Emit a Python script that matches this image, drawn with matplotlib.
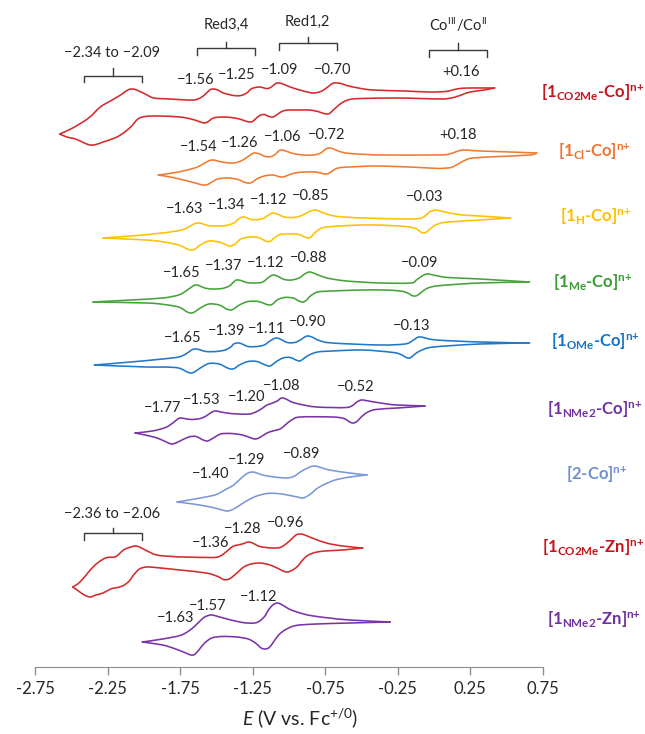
"""Stacked cyclic voltammograms of the Co / Zn complexes vs. Fc+/0."""
import matplotlib

matplotlib.use("Agg")
import matplotlib.pyplot as plt
from matplotlib.patches import PathPatch
from matplotlib.path import Path

plt.rcParams["font.family"] = ["Lato", "DejaVu Sans"]
plt.rcParams["mathtext.fontset"] = "custom"
plt.rcParams["mathtext.rm"] = "Lato"
plt.rcParams["mathtext.it"] = "Lato:italic"
plt.rcParams["mathtext.bf"] = "Lato:bold"

# ---- data: (E / V, current / a.u.), forward (upper) and return (lower)
CO2ME_CO_UP = [(-2.58, -34), (-2.49, -28), (-2.38, -18), (-2.30, -7), (-2.23, -1), (-2.16, 5),
               (-2.11, 10), (-2.08, 11), (-2.05, 10), (-1.99, 6), (-1.93, 2), (-1.82, 1),
               (-1.66, 0), (-1.60, 3), (-1.56, 8), (-1.54, 10.5), (-1.52, 11), (-1.49, 10),
               (-1.45, 7), (-1.38, 4.5), (-1.33, 4.5), (-1.29, 7), (-1.26, 11), (-1.23, 12.5),
               (-1.20, 13), (-1.17, 12), (-1.145, 11.5), (-1.12, 13), (-1.09, 16.5),
               (-1.07, 17), (-1.04, 16), (-0.99, 13), (-0.90, 9), (-0.83, 7), (-0.78, 8.5),
               (-0.74, 12), (-0.70, 16.5), (-0.67, 17), (-0.64, 16.5), (-0.60, 14.5),
               (-0.52, 12), (-0.42, 10), (-0.20, 9), (-0.03, 8), (0.08, 8.5), (0.13, 10),
               (0.18, 11.5), (0.25, 12), (0.35, 12), (0.42, 12)]
CO2ME_CO_DN = [(0.42, 12), (0.35, 10), (0.25, 8), (0.19, 5), (0.16, 3.5), (0.12, 2), (0.06, 1),
               (-0.10, 1.5), (-0.25, 2), (-0.50, 1.5), (-0.58, 0.5), (-0.63, -2.5),
               (-0.67, -7), (-0.70, -11), (-0.72, -13.5), (-0.74, -14), (-0.77, -13),
               (-0.80, -11.5), (-0.86, -10), (-0.92, -10), (-1.00, -10), (-1.04, -11),
               (-1.07, -13.5), (-1.10, -16.5), (-1.12, -17), (-1.145, -16), (-1.17, -14.5),
               (-1.20, -15.5), (-1.23, -19), (-1.25, -21.5), (-1.27, -22), (-1.30, -21),
               (-1.34, -19), (-1.40, -17.5), (-1.46, -17), (-1.52, -18), (-1.555, -21.5),
               (-1.58, -23), (-1.61, -22), (-1.66, -19.5), (-1.75, -17), (-1.90, -16),
               (-1.99, -16.5), (-2.04, -19), (-2.09, -27), (-2.15, -34), (-2.20, -38),
               (-2.28, -42), (-2.33, -44.5), (-2.37, -45), (-2.41, -43), (-2.47, -39),
               (-2.53, -37), (-2.58, -34)]

CL_CO_UP = [(-1.90, -10), (-1.80, -8), (-1.70, -5), (-1.63, -2), (-1.58, 2), (-1.545, 4.5),
            (-1.52, 5), (-1.49, 4), (-1.44, 2.5), (-1.38, 2), (-1.33, 4), (-1.29, 7.5),
            (-1.25, 11.5), (-1.23, 12), (-1.20, 11), (-1.16, 8.5), (-1.12, 8.5), (-1.09, 11),
            (-1.07, 14), (-1.05, 15), (-1.02, 14), (-0.97, 11.5), (-0.90, 10), (-0.83, 10),
            (-0.78, 12), (-0.745, 16), (-0.72, 17), (-0.69, 16), (-0.65, 13.5), (-0.58, 11.5),
            (-0.45, 10.5), (-0.37, 10), (0.00, 10), (0.09, 10.5), (0.14, 12.5), (0.18, 14.5),
            (0.22, 15), (0.26, 14.5), (0.32, 14), (0.53, 13), (0.71, 12)]
CL_CO_DN = [(0.71, 12), (0.66, 10), (0.45, 8.5), (0.27, 7), (0.22, 5), (0.18, 2),
            (0.15, -0.5), (0.12, -2.5), (0.09, -3), (0.04, -3.5), (-0.03, -3), (-0.37, -1),
            (-0.58, -2), (-0.66, -3), (-0.70, -6), (-0.725, -8.5), (-0.75, -9), (-0.78, -8),
            (-0.82, -7), (-0.89, -7), (-0.96, -8), (-1.01, -10.5), (-1.04, -12),
            (-1.07, -11.5), (-1.11, -10), (-1.17, -11), (-1.22, -14), (-1.255, -17.5),
            (-1.28, -18), (-1.31, -17), (-1.35, -14.5), (-1.42, -13), (-1.49, -14),
            (-1.53, -17), (-1.56, -19.5), (-1.59, -20), (-1.62, -19), (-1.67, -17),
            (-1.80, -12.5), (-1.90, -10)]

H_CO_UP = [(-2.28, -10), (-2.09, -8), (-1.87, -5), (-1.74, -2), (-1.69, 1), (-1.655, 4),
           (-1.63, 5), (-1.60, 4.5), (-1.56, 2.5), (-1.50, 2), (-1.43, 2.5), (-1.38, 5),
           (-1.345, 9), (-1.32, 11), (-1.295, 10.5), (-1.26, 8.5), (-1.21, 8.5), (-1.17, 10),
           (-1.135, 13.5), (-1.11, 15), (-1.08, 14), (-1.03, 11), (-0.97, 10.5), (-0.92, 12),
           (-0.87, 15.5), (-0.84, 17.5), (-0.82, 18), (-0.79, 17), (-0.74, 14), (-0.66, 11.5),
           (-0.49, 10), (-0.20, 9), (-0.10, 9.5), (-0.06, 12), (-0.03, 16), (0.00, 17.5),
           (0.02, 18), (0.05, 17), (0.11, 15), (0.20, 13), (0.32, 12), (0.53, 10)]
H_CO_DN = [(0.53, 10), (0.32, 8), (0.10, 6), (0.04, 4.5), (0.00, 2), (-0.03, -1.5),
           (-0.05, -4), (-0.07, -5), (-0.09, -4), (-0.12, -1), (-0.17, 1), (-0.30, 2.5),
           (-0.49, 3), (-0.70, 1.5), (-0.77, 0), (-0.81, -3.5), (-0.84, -8), (-0.86, -10),
           (-0.89, -9), (-0.93, -6.5), (-0.99, -6), (-1.06, -6.5), (-1.10, -10),
           (-1.13, -13.5), (-1.16, -13), (-1.21, -9.5), (-1.27, -9), (-1.33, -11),
           (-1.37, -16), (-1.40, -18), (-1.43, -17), (-1.48, -14), (-1.55, -13),
           (-1.61, -17), (-1.645, -21), (-1.67, -22), (-1.70, -21), (-1.76, -17),
           (-1.86, -14), (-1.98, -12), (-2.28, -10)]

ME_CO_UP = [(-2.35, -10), (-2.09, -8), (-1.87, -6), (-1.76, -3), (-1.71, 1), (-1.67, 5),
            (-1.645, 7), (-1.62, 6.5), (-1.58, 4), (-1.53, 3), (-1.46, 3.5), (-1.41, 6),
            (-1.38, 10), (-1.36, 12), (-1.33, 11.5), (-1.29, 9.5), (-1.23, 9), (-1.18, 10),
            (-1.14, 14.5), (-1.11, 17), (-1.08, 16), (-1.03, 12.5), (-0.98, 12), (-0.93, 14),
            (-0.89, 18), (-0.86, 20), (-0.83, 19), (-0.78, 16), (-0.72, 13.5), (-0.60, 11),
            (-0.37, 9), (-0.16, 9), (-0.12, 12), (-0.08, 16), (-0.05, 18), (-0.02, 17.5),
            (0.03, 16), (0.10, 14.5), (0.32, 13), (0.66, 10)]
ME_CO_DN = [(0.66, 10), (0.32, 9), (0.05, 6.5), (-0.03, 4.5), (-0.07, 1.5), (-0.10, -2),
            (-0.125, -4), (-0.15, -3.5), (-0.18, -1), (-0.23, 1), (-0.35, 2), (-0.49, 2),
            (-0.70, 1), (-0.80, 0), (-0.85, -4), (-0.88, -8.5), (-0.905, -10), (-0.93, -9),
            (-0.97, -6), (-1.03, -5.5), (-1.08, -8), (-1.11, -12), (-1.135, -13),
            (-1.16, -12), (-1.21, -9.5), (-1.28, -9.5), (-1.34, -13), (-1.38, -17),
            (-1.40, -18), (-1.43, -17), (-1.48, -13), (-1.55, -12), (-1.61, -16),
            (-1.65, -20), (-1.675, -21), (-1.70, -20), (-1.76, -15), (-1.86, -12.5),
            (-1.98, -11), (-2.35, -10)]

OME_CO_UP = [(-2.34, -12), (-2.09, -9), (-1.87, -6), (-1.76, -4), (-1.71, -1), (-1.67, 3),
             (-1.645, 4), (-1.62, 3.5), (-1.57, 1.5), (-1.50, 1.5), (-1.44, 3), (-1.40, 6),
             (-1.38, 9), (-1.355, 10), (-1.33, 9.5), (-1.28, 6.5), (-1.22, 6.5), (-1.17, 8),
             (-1.13, 12), (-1.10, 14.5), (-1.085, 15), (-1.06, 14), (-1.01, 10.5),
             (-0.96, 10.5), (-0.92, 13), (-0.89, 16), (-0.87, 17), (-0.84, 16),
             (-0.79, 12.5), (-0.70, 10), (-0.37, 8), (-0.20, 9), (-0.15, 12), (-0.12, 15),
             (-0.10, 16), (-0.07, 15.5), (0.02, 13), (0.32, 11), (0.66, 10)]
OME_CO_DN = [(0.66, 10), (0.32, 9), (0.00, 6), (-0.08, 3), (-0.12, 0), (-0.145, -3),
             (-0.165, -5), (-0.19, -4.5), (-0.22, -2), (-0.28, 0.5), (-0.49, 3), (-0.70, 2),
             (-0.80, 1), (-0.86, -2), (-0.90, -6), (-0.925, -8), (-0.95, -7), (-0.99, -4.5),
             (-1.04, -5), (-1.09, -9), (-1.12, -12.5), (-1.14, -13), (-1.17, -11.5),
             (-1.22, -8.5), (-1.28, -8.5), (-1.34, -12), (-1.375, -15.5), (-1.40, -16),
             (-1.43, -14.5), (-1.48, -11), (-1.55, -10.5), (-1.61, -15), (-1.65, -19),
             (-1.675, -20), (-1.70, -19), (-1.76, -15), (-1.86, -14), (-1.98, -14),
             (-2.34, -12)]

NME2_CO_UP = [(-2.06, -15), (-1.94, -13), (-1.85, -9.5), (-1.80, -5), (-1.77, -1.5),
              (-1.75, 0), (-1.72, -0.5), (-1.67, -1.5), (-1.61, -0.5), (-1.57, 2),
              (-1.535, 5.5), (-1.51, 7), (-1.48, 6.5), (-1.43, 5), (-1.35, 4), (-1.27, 4),
              (-1.22, 6.5), (-1.18, 10), (-1.15, 13), (-1.12, 14.5), (-1.08, 17), (-1.05, 20),
              (-1.02, 19), (-0.97, 15.5), (-0.88, 12.5), (-0.81, 11), (-0.70, 10.5),
              (-0.60, 10.5), (-0.56, 12.5), (-0.53, 16), (-0.50, 18), (-0.47, 17.5),
              (-0.41, 16), (-0.32, 14), (-0.25, 13), (-0.06, 12)]
NME2_CO_DN = [(-0.06, 12), (-0.25, 10), (-0.40, 8.5), (-0.46, 5.5), (-0.50, 1), (-0.53, -3.5),
              (-0.555, -5), (-0.58, -4), (-0.62, -0.5), (-0.70, 1), (-0.92, 1), (-0.98, -2),
              (-1.02, -6.5), (-1.06, -11), (-1.11, -13), (-1.15, -15), (-1.20, -19.5),
              (-1.23, -21), (-1.26, -20), (-1.32, -17), (-1.40, -15.5), (-1.47, -16),
              (-1.52, -20), (-1.56, -23), (-1.59, -22), (-1.64, -18.5), (-1.69, -19),
              (-1.75, -23), (-1.80, -26), (-1.83, -25), (-1.89, -21), (-1.96, -18),
              (-2.06, -15)]

TWO_CO_UP = [(-1.77, -14), (-1.61, -10), (-1.50, -6.5), (-1.43, -1), (-1.38, 3), (-1.32, 11),
             (-1.28, 15), (-1.25, 16), (-1.22, 15), (-1.18, 13), (-1.10, 11), (-1.01, 10),
             (-0.96, 12), (-0.92, 16), (-0.87, 20), (-0.83, 22), (-0.79, 21), (-0.72, 18),
             (-0.58, 15), (-0.46, 13)]
TWO_CO_DN = [(-0.46, 13), (-0.58, 11), (-0.68, 8), (-0.74, 4.5), (-0.80, 0), (-0.85, -6),
             (-0.90, -10), (-0.94, -9), (-1.01, -7), (-1.08, -5.5), (-1.15, -5.5),
             (-1.22, -8), (-1.28, -12), (-1.33, -16.5), (-1.38, -21), (-1.42, -23),
             (-1.46, -22), (-1.54, -19), (-1.66, -16), (-1.77, -14)]

CO2ME_ZN_UP = [(-2.49, -22), (-2.44, -17), (-2.35, -2), (-2.29, 5), (-2.25, 7.5), (-2.20, 8),
               (-2.17, 11), (-2.14, 15), (-2.10, 17.5), (-2.06, 19), (-2.03, 18), (-1.99, 15),
               (-1.91, 10), (-1.80, 8.5), (-1.73, 8), (-1.55, 7.5), (-1.49, 8), (-1.45, 11),
               (-1.41, 16), (-1.38, 19), (-1.35, 20), (-1.31, 21.5), (-1.28, 23), (-1.25, 22),
               (-1.20, 18.5), (-1.12, 17), (-1.06, 17.5), (-1.02, 21), (-0.98, 26),
               (-0.95, 30), (-0.92, 31), (-0.89, 30), (-0.83, 26.5), (-0.74, 22),
               (-0.63, 19), (-0.49, 17)]
CO2ME_ZN_DN = [(-0.49, 17), (-0.63, 15), (-0.75, 14), (-0.82, 12.5), (-0.87, 9.5), (-0.91, 4),
               (-0.94, -1.5), (-0.98, -5.5), (-1.01, -7), (-1.04, -6), (-1.08, -3),
               (-1.14, 0.5), (-1.20, 2), (-1.26, 1), (-1.31, -2), (-1.35, -7), (-1.39, -12),
               (-1.42, -14.5), (-1.45, -14.5), (-1.49, -11.5), (-1.57, -8), (-1.75, -5),
               (-1.92, -2.5), (-1.98, -2), (-2.03, -4), (-2.07, -10), (-2.10, -16),
               (-2.14, -20.5), (-2.18, -22.5), (-2.22, -23.5), (-2.26, -26.5), (-2.30, -29),
               (-2.33, -30), (-2.37, -32), (-2.41, -30), (-2.45, -26), (-2.49, -22)]

NME2_ZN_UP = [(-2.01, -12), (-1.87, -9), (-1.75, -5.5), (-1.69, -1), (-1.64, 5), (-1.59, 12),
              (-1.555, 14.5), (-1.53, 15), (-1.50, 14), (-1.45, 12), (-1.37, 9), (-1.29, 7),
              (-1.22, 7.5), (-1.17, 13), (-1.14, 20), (-1.11, 25), (-1.08, 27), (-1.05, 25.5),
              (-0.99, 20.5), (-0.91, 16.5), (-0.83, 14), (-0.72, 12), (-0.58, 10), (-0.30, 8)]
NME2_ZN_DN = [(-0.30, 8), (-0.58, 7), (-0.81, 6), (-0.95, 4.5), (-1.02, 0.5), (-1.07, -5),
              (-1.11, -13), (-1.135, -17.5), (-1.16, -19), (-1.19, -18), (-1.23, -13),
              (-1.28, -9), (-1.36, -7), (-1.46, -6.5), (-1.53, -8), (-1.58, -13),
              (-1.62, -20), (-1.65, -24.5), (-1.675, -25), (-1.71, -23), (-1.78, -19),
              (-1.87, -15), (-2.01, -12)]

NAMES = [r"[1$_{\mathbf{CO2Me}}$-Co]$^{\mathbf{n{+}}}$",
         r"[1$_{\mathbf{Cl}}$-Co]$^{\mathbf{n{+}}}$",
         r"[1$_{\mathbf{H}}$-Co]$^{\mathbf{n{+}}}$",
         r"[1$_{\mathbf{Me}}$-Co]$^{\mathbf{n{+}}}$",
         r"[1$_{\mathbf{OMe}}$-Co]$^{\mathbf{n{+}}}$",
         r"[1$_{\mathbf{NMe2}}$-Co]$^{\mathbf{n{+}}}$",
         r"[2-Co]$^{\mathbf{n{+}}}$",
         r"[1$_{\mathbf{CO2Me}}$-Zn]$^{\mathbf{n{+}}}$",
         r"[1$_{\mathbf{NMe2}}$-Zn]$^{\mathbf{n{+}}}$"]
TRACES = [(CO2ME_CO_UP, CO2ME_CO_DN), (CL_CO_UP, CL_CO_DN), (H_CO_UP, H_CO_DN),
          (ME_CO_UP, ME_CO_DN), (OME_CO_UP, OME_CO_DN), (NME2_CO_UP, NME2_CO_DN),
          (TWO_CO_UP, TWO_CO_DN), (CO2ME_ZN_UP, CO2ME_ZN_DN), (NME2_ZN_UP, NME2_ZN_DN)]

# E1/2 labels (text) for each trace
E_HALF = [["−1.56", "−1.25", "−1.09", "−0.70", "+0.16"],
          ["−1.54", "−1.26", "−1.06", "−0.72", "+0.18"],
          ["−1.63", "−1.34", "−1.12", "−0.85", "−0.03"],
          ["−1.65", "−1.37", "−1.12", "−0.88", "−0.09"],
          ["−1.65", "−1.39", "−1.11", "−0.90", "−0.13"],
          ["−1.77", "−1.53", "−1.20", "−1.08", "−0.52"],
          ["−1.40", "−1.29", "−0.89"],
          ["−1.36", "−1.28", "−0.96"],
          ["−1.63", "−1.57", "−1.12"]]

TICKS = [-2.75, -2.25, -1.75, -1.25, -0.75, -0.25, 0.25, 0.75]
TICK_LABELS = ["-2.75", "-2.25", "-1.75", "-1.25", "-0.75", "-0.25", "0.25", "0.75"]

# ---- layout / style
COLORS = ["#d42a2a", "#ef7b30", "#ffc000", "#45a33a", "#1f78c8", "#7a33a8", "#7b97d6",
          "#d42a2a", "#7a33a8"]
LABEL_COLORS = ["#c8141e", "#ee7430", "#ffbf00", "#3a9a35", "#1873c6", "#7030a0",
                "#6f8fcf", "#c8141e", "#7030a0"]
OFFSETS = [567, 502, 439, 375, 314, 249, 179, 102, 37]
NAME_POS = [(0.74, 574), (0.86, 515), (0.87, 450), (0.82, 384), (0.81, 325),
            (0.78, 257), (0.91, 192), (0.745, 119), (0.78, 47)]
E_HALF_POS = [[(-1.64, 587), (-1.36, 592), (-1.06, 597), (-0.70, 597), (0.19, 595)],
              [(-1.62, 520), (-1.34, 524), (-1.04, 530), (-0.74, 532), (0.17, 532)],
              [(-1.72, 458), (-1.43, 462), (-1.14, 467), (-0.85, 471), (-0.06, 470)],
              [(-1.74, 394), (-1.45, 401), (-1.16, 404), (-0.86, 409), (-0.10, 404)],
              [(-1.73, 329), (-1.43, 336), (-1.15, 338), (-0.87, 345), (-0.15, 341)],
              [(-1.87, 259), (-1.60, 267), (-1.29, 270), (-1.05, 281), (-0.54, 280)],
              [(-1.54, 193), (-1.29, 207), (-0.91, 213)],
              [(-1.54, 124), (-1.32, 138), (-1.02, 144)],
              [(-1.78, 49), (-1.56, 61), (-1.21, 70)]]
TEXT = "#262626"


def branch_patch(points, offset, color):
    """Smooth open path through every traced point (Catmull-Rom as cubic Bezier)."""
    pts = [(e, offset + i) for e, i in points]
    ext = [pts[0]] + pts + [pts[-1]]
    verts = [pts[0]]
    codes = [Path.MOVETO]
    for k in range(1, len(ext) - 2):
        p0, p1, p2, p3 = ext[k - 1], ext[k], ext[k + 1], ext[k + 2]
        c1 = (p1[0] + (p2[0] - p0[0]) / 6, p1[1] + (p2[1] - p0[1]) / 6)
        c2 = (p2[0] - (p3[0] - p1[0]) / 6, p2[1] - (p3[1] - p1[1]) / 6)
        verts += [c1, c2, p2]
        codes += [Path.CURVE4] * 3
    return PathPatch(Path(verts, codes), fill=False, edgecolor=color, lw=1.15,
                     capstyle="round", joinstyle="round")


def bracket(ax, e0, e1, y, leg, tip):
    mid = (e0 + e1) / 2
    ax.plot([e0, e0, e1, e1], [y - leg, y, y, y - leg], color="#3a3a3a", lw=1.0,
            solid_joinstyle="miter")
    ax.plot([mid, mid], [y, y + tip], color="#3a3a3a", lw=1.0)


fig = plt.figure(figsize=(6.45, 7.34), dpi=100)
ax = fig.add_axes([35 / 645, 67 / 734, 507.5 / 645, 667 / 734])
ax.set_xlim(-2.75, 0.75)
ax.set_ylim(0, 667)

for (up, dn), off, col in zip(TRACES, OFFSETS, COLORS):
    ax.add_patch(branch_patch(up, off, col))
    ax.add_patch(branch_patch(dn, off, col))

for labels, positions in zip(E_HALF, E_HALF_POS):
    for txt, (e, y) in zip(labels, positions):
        ax.text(e, y, txt, ha="center", va="center", fontsize=10.5, color=TEXT)

for name, (e, y), col in zip(NAMES, NAME_POS, LABEL_COLORS):
    ax.text(e, y, name, ha="left", va="center", fontsize=12, fontweight="bold",
            color=col, clip_on=False)

# group brackets
ax.text(-2.22, 614, "−2.34 to −2.09", ha="center", va="center", fontsize=10.5, color=TEXT)
bracket(ax, -2.41, -2.01, 591, 6, 8)
ax.text(-1.43, 642, "Red3,4", ha="center", va="center", fontsize=10.5, color=TEXT)
bracket(ax, -1.63, -1.23, 619, 7, 6)
ax.text(-0.87, 645, "Red1,2", ha="center", va="center", fontsize=10.5, color=TEXT)
bracket(ax, -1.07, -0.67, 624, 7, 6)
ax.text(0.17, 642, r"Co$^{\mathrm{III}}$/Co$^{\mathrm{II}}$", ha="center", va="center",
        fontsize=10.5, color=TEXT)
bracket(ax, -0.03, 0.37, 617, 7, 7)
ax.text(-2.22, 153, "−2.36 to −2.06", ha="center", va="center", fontsize=10.5, color=TEXT)
bracket(ax, -2.41, -2.01, 134, 7, 5)

for side in ("left", "right", "top"):
    ax.spines[side].set_visible(False)
ax.spines["bottom"].set_color("#8c8c8c")
ax.set_yticks([])
ax.set_xticks(TICKS)
ax.set_xticklabels(TICK_LABELS)
ax.tick_params(axis="x", direction="out", length=6, width=1, color="#8c8c8c",
               labelsize=12, labelcolor=TEXT, pad=4)
ax.set_xlabel(r"$\mathit{E}$ (V vs. Fc$^{+/0}$)", fontsize=14, color=TEXT)
ax.xaxis.set_label_coords((300 - 35) / 507.5, -(718 - 667) / 667)
ax.xaxis.label.set_va("center")

fig.savefig("out.png", dpi=100)
